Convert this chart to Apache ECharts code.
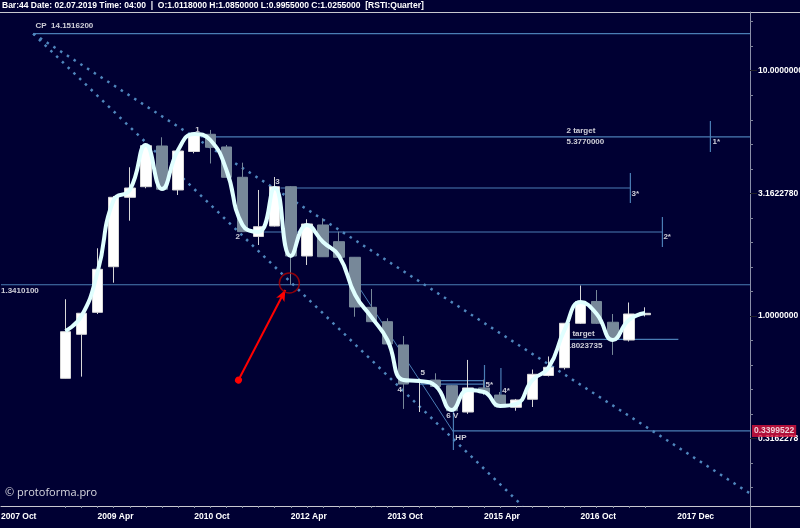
<!DOCTYPE html>
<html><head><meta charset="utf-8">
<script src="https://cdn.jsdelivr.net/npm/echarts@6/dist/echarts.min.js"></script>
<style>html,body{margin:0;padding:0;background:#000033;}#c{width:800px;height:528px;}</style>
</head><body><div id="c"></div>
<script>
const FONT = "'Liberation Sans','Arial',sans-serif";

// quarterly bars (x = bar index on the time axis)
const barIndex = [4,5,6,7,8,9,10,11,12,13,14,15,16,17,18,19,20,21,22,23,24,25,26,27,28,29,30,31,32,33,34,35,36,37,38,39,40];
const opens  = [0.557,0.842,1.035,1.588,3.047,3.366,4.932,3.264,4.684,5.505,4.887,3.677,2.110,2.327,3.366,1.756,2.350,2.009,1.735,1.085,0.948,0.762,0.540,0.548,0.520,0.406,0.509,0.476,0.4244,0.4576,0.572,0.6156,0.934,1.146,0.943,0.798,1.0118];
const closes = [0.863,1.026,1.550,3.047,3.325,4.947,3.285,4.706,5.443,4.872,3.677,2.207,2.312,3.366,1.756,2.372,1.744,1.735,1.088,0.948,0.769,0.528,0.543,0.516,0.411,0.509,0.486,0.427,0.4546,0.5785,0.618,0.934,1.144,0.934,0.810,1.019,1.0255];
const lows   = [0.556,0.566,1.019,1.367,2.446,3.316,3.285,3.114,4.606,4.185,3.670,2.200,1.947,2.317,1.341,1.614,1.740,1.724,0.993,0.945,0.765,0.418,0.406,0.513,0.410,0.399,0.476,0.426,0.411,0.4256,0.567,0.605,0.928,0.928,0.694,0.787,0.9955];
const highs  = [1.170,1.029,1.888,3.085,4.039,5.058,5.353,4.750,5.572,5.733,4.979,4.217,3.264,3.687,3.388,2.479,2.502,2.207,1.740,1.288,0.979,0.829,0.556,0.584,0.523,0.662,0.550,0.490,0.459,0.605,0.684,0.936,1.331,1.276,1.019,1.135,1.085];
// smoothed curve
const smoothValues = [0.869,1.000,1.512,2.972,3.264,4.979,3.294,4.750,5.521,5.218,3.938,2.350,2.200,3.325,1.756,2.350,2.003,1.756,1.218,0.991,0.798,0.548,0.543,0.518,0.414,0.499,0.490,0.430,0.438,0.548,0.614,0.877,1.140,1.019,0.798,0.963,1.029];

const xTickValues = [0,6,12,18,24,30,36,42];
const xTickLabels = ['2007 Oct','2009 Apr','2010 Oct','2012 Apr','2013 Oct','2015 Apr','2016 Oct','2017 Dec'];
const yTickPrices = [0.3162278,1,3.162278,10];
const yTickLabels = ['0.3162278','1.0000000','3.1622780','10.0000000'];
const yMinorExp = [-0.7,-0.6,-0.5,-0.4,-0.3,-0.2,-0.1,0,0.1,0.2,0.3,0.4,0.5,0.6,0.7,0.8,0.9,1.0,1.1,1.2];

// horizontal levels [fromX, toX, price]
const levelLines = [[2,46.52,14.15162],[12.4,46.52,5.377],[17.36,39.1,3.325],[15.37,41.08,2.200],[0,46.52,1.34101],[35.06,42.07,0.8023735],[28.1,46.52,0.3399522],[26,30.03,0.5448],[26,30.03,0.528]];
// vertical markers [x, lowPrice, highPrice]
const markerLines = [[44.06,4.662,6.237],[39.09,2.888,3.83],[41.08,1.911,2.532],[28.1,0.2843,0.414],[30.03,0.49,0.631],[31.05,0.4675,0.614]];
const diagLine = [[22.14,1.338],[28.1,0.3365]];
const channelA = [[2,14.15162],[32.4,0.168]];
const channelB = [[2,14.15162],[46.52,0.189]];
const arrowLine = [[14.75,0.548],[17.66,1.276]];
const circlePoint = [17.91,1.363];

const annotations = [
 ['CP  14.1516200',2.14,15.21],['1',12.07,5.733],['2',14.56,2.099],['3',17.04,3.518],['4',24.62,0.4993],['5',26.05,0.5857],
 ['6 V',27.66,0.3913],['HP',28.22,0.3182],['5*',30.09,0.5233],['4*',31.14,0.4946],['target',35.49,0.8446],['0.8023735',35.0,0.7546],
 ['2 target',35.12,5.705],['5.3770000',35.12,5.121],['1*',44.19,5.121],['3*',39.16,3.144],['2*',41.14,2.099],['1.3410100',0.0,1.2645]
];
const lastPrice = 0.3399522;

const L = v => Math.log10(v);
const X_MAX = 46.52, Y_MIN = -0.7746, Y_MAX = 1.2393;
const LINE_BLUE = '#4a7db5';

const series = [];
levelLines.forEach(s => series.push({type:'line', silent:true, symbol:'none', z:1, data:[[s[0],L(s[2])],[s[1],L(s[2])]], lineStyle:{color:LINE_BLUE,width:1.2}}));
markerLines.forEach(s => series.push({type:'line', silent:true, symbol:'none', z:1, data:[[s[0],L(s[1])],[s[0],L(s[2])]], lineStyle:{color:LINE_BLUE,width:1.2}}));
series.push({type:'line', silent:true, symbol:'none', z:1, data:diagLine.map(p=>[p[0],L(p[1])]), lineStyle:{color:LINE_BLUE,width:1}});
[channelA, channelB].forEach(c => series.push({type:'line', silent:true, symbol:'none', z:1, data:c.map(p=>[p[0],L(p[1])]), lineStyle:{color:'#4f86bd',width:2.5,type:[2.5,5.5]}}));
series.push({type:'candlestick', z:3, barWidth:11,
  data: barIndex.map((x,k)=>[x, L(opens[k]), L(closes[k]), L(lows[k]), L(highs[k])]),
  itemStyle:{color:'#ffffff', color0:'#778899', borderColor:'#d8d8d8', borderColor0:'#778899', borderWidth:1}});
series.push({type:'line', silent:true, symbol:'none', z:5, smooth:0.5,
  data: barIndex.map((x,k)=>[x, L(smoothValues[k])]), lineStyle:{color:'#e0ffff', width:4}});
series.push({type:'scatter', silent:true, z:2, symbolSize:0,
  data: annotations.map(a=>({name:a[0], value:[a[1], L(a[2])]})),
  label:{show:true, position:'right', distance:0, formatter:'{b}', color:'#ffffff', fontSize:8, fontWeight:'bold', fontFamily:FONT}});
series.push({type:'scatter', silent:true, z:6, symbol:'circle', symbolSize:20, data:[[circlePoint[0], L(circlePoint[1])]],
  itemStyle:{color:'rgba(0,0,0,0)', borderColor:'#b00000', borderWidth:1.5}});
series.push({type:'line', silent:true, z:6, symbol:'none', data:[],
  markLine:{silent:true, symbol:['circle','arrow'], symbolSize:[7,11], label:{show:false},
    lineStyle:{color:'#ff0000', width:2, type:'solid'},
    data:[[{coord:[arrowLine[0][0], L(arrowLine[0][1])]},{coord:[arrowLine[1][0], L(arrowLine[1][1])]}]]}});
series.push({type:'scatter', silent:true, z:7, symbolSize:0, data:[{name:lastPrice.toFixed(7), value:[X_MAX, L(lastPrice)]}],
  label:{show:true, position:'right', distance:2, formatter:'{b}', color:'#ffffff', backgroundColor:'#dc143c', padding:[2,2,1,2], fontSize:8.5, fontWeight:'bold', fontFamily:FONT}});

const option = {
  backgroundColor:'#000033',
  animation:false,
  title:{text:'Bar:44 Date: 02.07.2019 Time: 04:00  |  O:1.0118000 H:1.0850000 L:0.9955000 C:1.0255000  [RSTI:Quarter]',
    left:2, top:1, padding:0, textStyle:{color:'#ffffff', fontSize:8.5, fontWeight:'bold', fontFamily:FONT}},
  grid:{left:1, right:50, top:12, bottom:22, containLabel:false, outerBoundsMode:'none'},
  xAxis:{type:'value', min:0, max:X_MAX,
    axisLine:{show:true, onZero:false, lineStyle:{color:'#c8c8d0', width:1}},
    axisTick:{show:true, customValues:barIndex, length:2, lineStyle:{color:'#8890a0'}},
    axisLabel:{customValues:xTickValues, formatter:v=>{const k=xTickValues.indexOf(v);return k<0?'':xTickLabels[k];},
      align:'left', color:'#ffffff', fontSize:8.5, fontWeight:'bold', fontFamily:FONT, margin:6},
    splitLine:{show:false}},
  yAxis:[{type:'value', position:'right', min:Y_MIN, max:Y_MAX,
    axisLine:{show:true, onZero:false, lineStyle:{color:'#8a8fa8', width:1}},
    axisTick:{show:true, customValues:yMinorExp, length:3, lineStyle:{color:'#7f8499'}},
    axisLabel:{show:false}, splitLine:{show:false}},
   {type:'value', position:'right', min:Y_MIN, max:Y_MAX,
    axisLine:{show:false, onZero:false},
    axisTick:{show:true, customValues:yTickPrices.map(L), length:7, lineStyle:{color:'#202028'}},
    axisLabel:{customValues:yTickPrices.map(L), formatter:v=>{let k=0,b=1e9;yTickPrices.forEach((p,i)=>{const d=Math.abs(L(p)-v);if(d<b){b=d;k=i;}});return yTickLabels[k];},
      color:'#ffffff', fontSize:8.5, fontWeight:'bold', fontFamily:FONT, margin:8},
    splitLine:{show:false}}],
  graphic:[
    {type:'line', shape:{x1:0,y1:12.5,x2:800,y2:12.5}, style:{stroke:'#c8c8d0', lineWidth:1}},
    {type:'line', shape:{x1:750,y1:506.5,x2:800,y2:506.5}, style:{stroke:'#c8c8d0', lineWidth:1}},
    {type:'line', shape:{x1:750.5,y1:506,x2:750.5,y2:528}, style:{stroke:'#8a8fa8', lineWidth:1}},
    {type:'text', left:5, top:487, style:{text:'© protoforma.pro', fill:'#d8d8e0', fontSize:11, fontFamily:"'Open Sans','DejaVu Sans',sans-serif"}}
  ],
  series: series
};
const chart = echarts.init(document.getElementById('c'));
chart.setOption(option);
</script></body></html>
